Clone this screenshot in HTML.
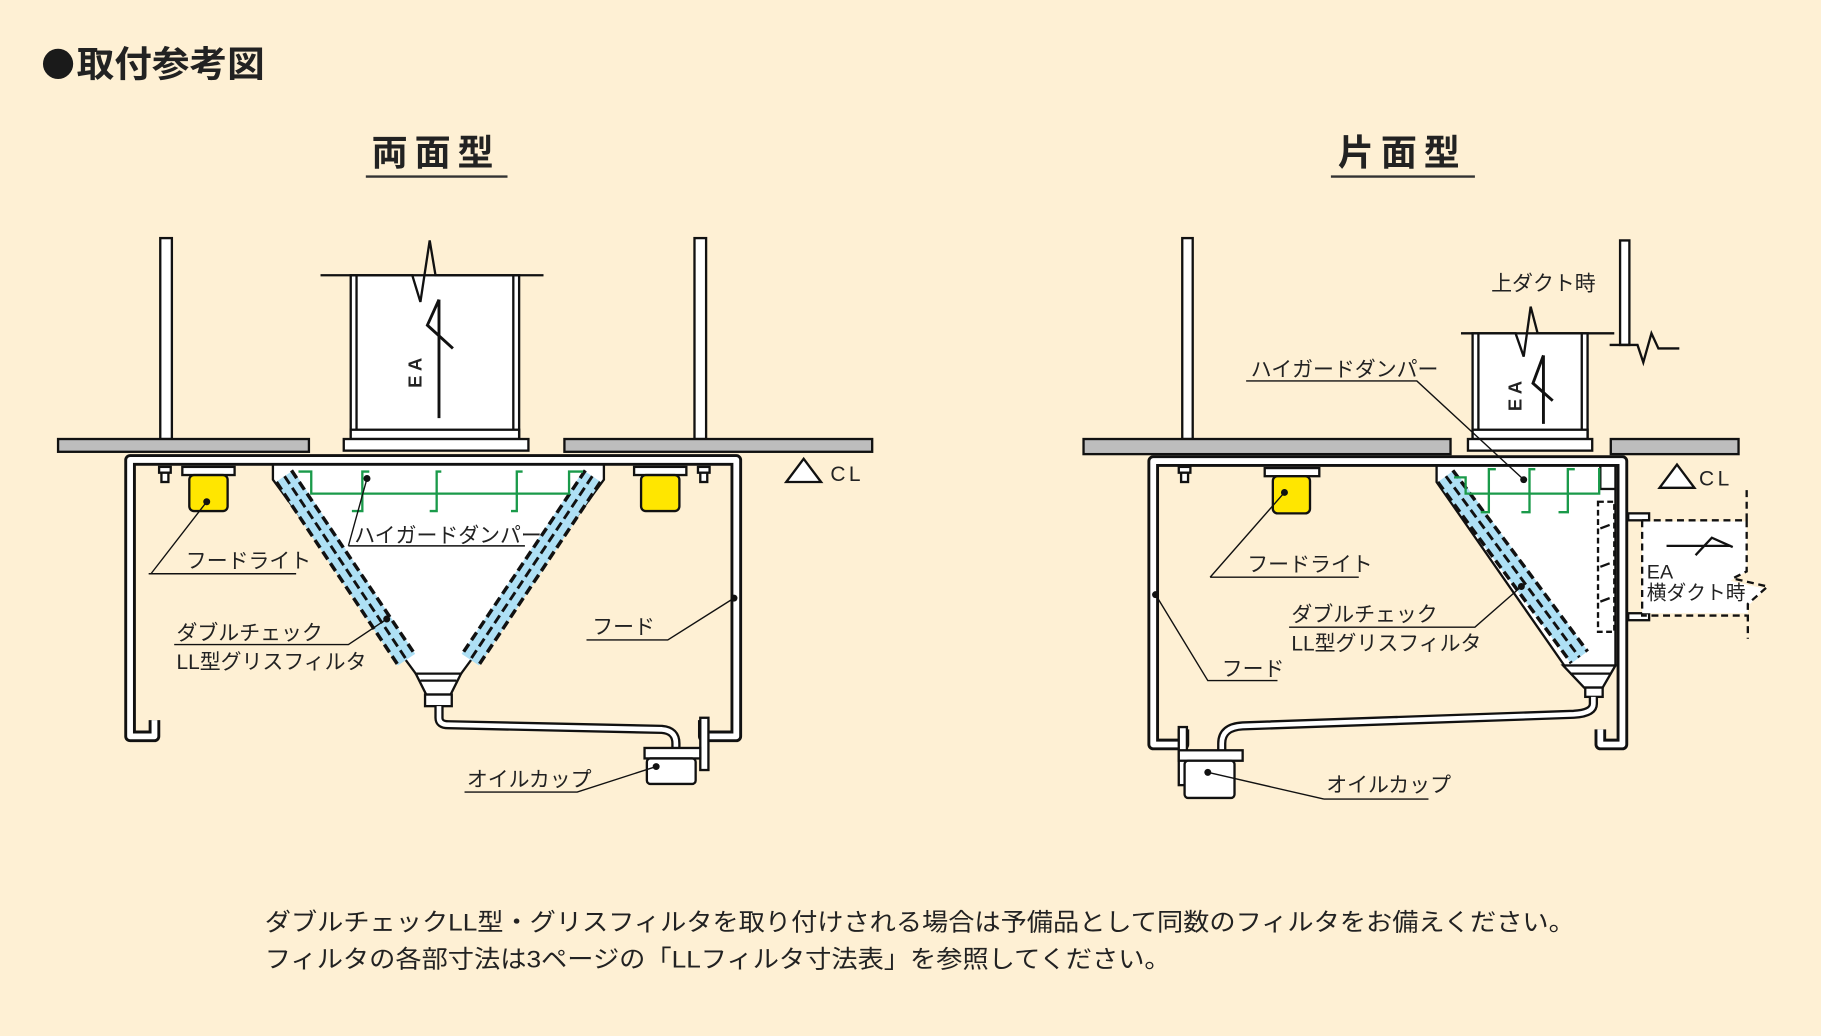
<!DOCTYPE html>
<html><head><meta charset="utf-8"><style>
html,body{margin:0;padding:0;background:#fef0d4;}
svg{display:block}
text{font-family:"Liberation Sans","Noto Sans CJK JP",sans-serif;fill:#222}
</style></head><body>
<svg width="1821" height="1036" viewBox="0 0 1568 892" preserveAspectRatio="none" xmlns="http://www.w3.org/2000/svg">
<rect width="1568" height="892" fill="#fef0d4"/>
<circle cx="50" cy="55" r="13" fill="#1a1a1a"/>
<text x="66" y="66" font-size="31" font-weight="bold" textLength="162" lengthAdjust="spacingAndGlyphs">取付参考図</text>
<text x="320" y="142" font-size="31" font-weight="bold" letter-spacing="6">両面型</text>
<line x1="315" y1="152" x2="437" y2="152" stroke="#333" stroke-width="2"/>
<text x="1152" y="142" font-size="31" font-weight="bold" letter-spacing="6">片面型</text>
<line x1="1146" y1="152" x2="1270" y2="152" stroke="#333" stroke-width="2"/>

<g stroke="#111" stroke-width="2">
<!-- LEFT DIAGRAM -->
<rect x="138" y="205" width="10" height="173" fill="#fff"/>
<rect x="598" y="205" width="10" height="173" fill="#fff"/>
<rect x="302" y="237" width="145" height="141" fill="#fff"/>
<line x1="307" y1="237" x2="307" y2="378"/><line x1="442" y1="237" x2="442" y2="378"/>
<rect x="302" y="370" width="145" height="8" fill="#fff"/>
<rect x="296" y="378" width="159" height="10" fill="#fff"/>
<path d="M276 237 H355 L362 260 L370 207 L375 237 H468" fill="none"/>
<line x1="378" y1="258" x2="378" y2="360" stroke-width="2.5"/>
<path d="M378 258 L368 280 L390 300" fill="none" stroke-width="2.5"/>
<rect x="50" y="378" width="216" height="11" fill="#bdbdbd"/>
<rect x="486" y="378" width="265" height="11" fill="#bdbdbd"/>
<path d="M133 620 V634 H112 V396 H634 V634 H606 V620" fill="none" stroke-width="10" stroke-linejoin="round"/>
<path d="M133 620 V634 H112 V396 H634 V634 H606 V620" fill="none" stroke="#fff" stroke-width="5" stroke-linejoin="round"/>
<rect x="157" y="402" width="45" height="7" fill="#fff"/>
<rect x="163" y="409" width="33" height="31" rx="4" fill="#ffe600"/>
<rect x="546" y="402" width="45" height="7" fill="#fff"/>
<rect x="552" y="409" width="33" height="31" rx="4" fill="#ffe600"/>
<rect x="137" y="402" width="10" height="5" fill="#fff"/><rect x="139" y="407" width="6" height="8" fill="#fff"/>
<rect x="601" y="402" width="10" height="5" fill="#fff"/><rect x="603" y="407" width="6" height="8" fill="#fff"/>
<path d="M235 400 V413 L358 580 H397 L520 413 V400 Z" fill="#fff"/>
<path d="M358 580 H397 L388 598 H367 Z" fill="#fff"/>
<line x1="362" y1="586" x2="393" y2="586"/>
<rect x="366" y="598" width="23" height="10" fill="#fff"/>
<path d="M378 608 V618 Q378 624 386 624 L570 628 Q582 629 582 640 V648" fill="none" stroke-width="8"/>
<path d="M378 608 V618 Q378 624 386 624 L570 628 Q582 629 582 640 V648" fill="none" stroke="#fff" stroke-width="4"/>
<rect x="603" y="618" width="7" height="45" fill="#fff"/>
<rect x="555" y="644" width="48" height="9" fill="#fff"/>
<rect x="557" y="653" width="42" height="22" rx="3" fill="#fff"/>
<line x1="245" y1="410" x2="350" y2="568" stroke="#aee0f5" stroke-width="18"/>
<line x1="251" y1="405" x2="357" y2="563" stroke-dasharray="8 4" stroke-width="3"/>
<line x1="238" y1="415" x2="343" y2="573" stroke-dasharray="8 4" stroke-width="3"/>
<line x1="245" y1="410" x2="350" y2="568" stroke-dasharray="8 4" stroke-width="2.5"/>
<line x1="510" y1="410" x2="405" y2="568" stroke="#aee0f5" stroke-width="18"/>
<line x1="504" y1="405" x2="398" y2="563" stroke-dasharray="8 4" stroke-width="3"/>
<line x1="517" y1="415" x2="412" y2="573" stroke-dasharray="8 4" stroke-width="3"/>
<line x1="510" y1="410" x2="405" y2="568" stroke-dasharray="8 4" stroke-width="2.5"/>
<g stroke="#1a9a4a" fill="none" stroke-width="2">
<path d="M257 406 H268 V425 H490 V406 H502"/>
<path d="M318 406 H312 V440 H303"/><path d="M380 406 H376 V440 H370"/>
<path d="M450 406 H445 V440 H440"/>
</g>
<path d="M677 415 L692 395 L707 415 Z" fill="#fff"/>
<g stroke-width="1.2" fill="none">
<path d="M128 494 H255 M130 494 L178 432"/>
<path d="M300 470 H452 M300 470 L316 412"/>
<path d="M150 555 H300 L333 533"/>
<path d="M505 551 H575 L632 515"/>
<path d="M400 682 H497 L565 660"/>
</g>

<!-- RIGHT DIAGRAM -->
<rect x="1018" y="205" width="9" height="173" fill="#fff"/>
<path d="M1395 207 H1403 V297 H1395 Z" fill="#fff"/>
<path d="M1386 297 H1410 L1415 312 L1422 287 L1428 300 H1446" fill="none"/>
<rect x="1268" y="287" width="99" height="91" fill="#fff"/>
<line x1="1273" y1="287" x2="1273" y2="378"/><line x1="1362" y1="287" x2="1362" y2="378"/>
<rect x="1268" y="370" width="99" height="8" fill="#fff"/>
<rect x="1264" y="378" width="107" height="10" fill="#fff"/>
<path d="M1258 287 H1305 L1312 307 L1318 264 L1324 287 H1390" fill="none"/>
<line x1="1329" y1="306" x2="1329" y2="365" stroke-width="2.5"/>
<path d="M1329 306 L1320 330 L1337 345" fill="none" stroke-width="2.5"/>
<rect x="933" y="378" width="316" height="13" fill="#bdbdbd"/>
<rect x="1387" y="378" width="110" height="13" fill="#bdbdbd"/>
<path d="M1019 628 V641 H993 V397 H1397 V641 H1378 V628" fill="none" stroke-width="10" stroke-linejoin="round"/>
<path d="M1019 628 V641 H993 V397 H1397 V641 H1378 V628" fill="none" stroke="#fff" stroke-width="5" stroke-linejoin="round"/>
<rect x="1089" y="403" width="47" height="7" fill="#fff"/>
<rect x="1096" y="410" width="32" height="32" rx="4" fill="#ffe600"/>
<rect x="1015" y="402" width="10" height="5" fill="#fff"/><rect x="1017" y="407" width="6" height="8" fill="#fff"/>
<path d="M1237 401 V415 L1347 573 H1391 V401 Z" fill="#fff"/>
<rect x="1378" y="401" width="13" height="20" fill="#fff"/>
<path d="M1346 573 H1391 L1380 592 H1364 Z" fill="#fff"/>
<line x1="1352" y1="580" x2="1387" y2="580"/>
<rect x="1365" y="592" width="15" height="8" fill="#fff"/>
<rect x="1376" y="432" width="14" height="112" fill="none" stroke-dasharray="5 3"/>
<path d="M1378 455 L1386 452 M1378 488 L1386 485 M1378 518 L1386 515" />
<path d="M1372 600 V606 Q1372 614 1355 615 L1070 625 Q1052 626 1052 640 V648" fill="none" stroke-width="8"/>
<path d="M1372 600 V606 Q1372 614 1355 615 L1070 625 Q1052 626 1052 640 V648" fill="none" stroke="#fff" stroke-width="4"/>
<rect x="1015" y="626" width="7" height="50" fill="#fff"/>
<rect x="1015" y="646" width="55" height="9" fill="#fff"/>
<rect x="1020" y="655" width="43" height="32" rx="3" fill="#fff"/>
<line x1="1245" y1="410" x2="1360" y2="566" stroke="#aee0f5" stroke-width="18"/>
<line x1="1251" y1="405" x2="1367" y2="561" stroke-dasharray="8 4" stroke-width="3"/>
<line x1="1238" y1="415" x2="1353" y2="571" stroke-dasharray="8 4" stroke-width="3"/>
<line x1="1245" y1="410" x2="1360" y2="566" stroke-dasharray="8 4" stroke-width="2.5"/>
<g stroke="#1a9a4a" fill="none" stroke-width="2">
<path d="M1252 411 H1262 V425 H1377 V403"/>
<path d="M1288 404 H1282 V441 H1275"/><path d="M1322 404 H1317 V441 H1310"/>
<path d="M1356 404 H1350 V441 H1342"/>
</g>
<rect x="1402" y="442" width="18" height="6" fill="#fff"/>
<rect x="1402" y="528" width="18" height="6" fill="#fff"/>
<path d="M1414 449 H1504 V492 L1490 500 L1520 507 L1505 522 V528 H1414 Z" fill="#fff" stroke="none"/>
<path d="M1414 448 V530 H1504 M1414 448 H1504 V420 M1504 448 V492 L1492 498 L1522 505 L1505 520 V550" fill="none" stroke-dasharray="6 4"/>
<line x1="1435" y1="470" x2="1490" y2="470" stroke-width="2"/>
<path d="M1460 478 L1474 463 L1492 471" fill="none" stroke-width="2"/>
<path d="M1429 420 L1444 400 L1459 420 Z" fill="#fff"/>
<g stroke-width="1.2" fill="none">
<path d="M1073 328 H1220 L1312 413"/>
<path d="M1042 497 H1170 M1042 497 L1106 424"/>
<path d="M1110 540 H1270 L1310 505"/>
<path d="M995 512 L1040 586 H1100"/>
<path d="M1140 688 H1230 M1040 665 L1140 688"/>
</g>
</g>
<g fill="#111">
<circle cx="178" cy="432" r="3"/><circle cx="316" cy="412" r="3"/><circle cx="333" cy="533" r="3"/>
<circle cx="632" cy="515" r="3"/><circle cx="565" cy="660" r="3"/>
<circle cx="1312" cy="413" r="3"/><circle cx="1106" cy="424" r="3"/><circle cx="1310" cy="505" r="3"/>
<circle cx="995" cy="512" r="3"/><circle cx="1040" cy="665" r="3"/>
</g>
<g font-size="18">
<text x="363" y="334" font-size="16" font-weight="bold" transform="rotate(-90 363 334)">E A</text>
<text x="1310" y="354" font-size="16" font-weight="bold" transform="rotate(-90 1310 354)">E A</text>
<text x="715" y="414" font-size="18" letter-spacing="3">CL</text>
<text x="1463" y="418" font-size="18" letter-spacing="3">CL</text>
<text x="160" y="489">フードライト</text>
<text x="305" y="467">ハイガードダンパー</text>
<text x="152" y="551">ダブルチェック</text>
<text x="152" y="576">LL型グリスフィルタ</text>
<text x="510" y="546">フード</text>
<text x="402" y="677">オイルカップ</text>
<text x="1284" y="250">上ダクト時</text>
<text x="1077" y="324">ハイガードダンパー</text>
<text x="1074" y="492">フードライト</text>
<text x="1112" y="535">ダブルチェック</text>
<text x="1112" y="560">LL型グリスフィルタ</text>
<text x="1052" y="582">フード</text>
<text x="1142" y="682">オイルカップ</text>
<text x="1418" y="498" font-size="17">EA</text>
<text x="1418" y="516" font-size="17">横ダクト時</text>
</g>
<text x="228" y="801" font-size="21" textLength="1128" lengthAdjust="spacingAndGlyphs">ダブルチェックLL型・グリスフィルタを取り付けされる場合は予備品として同数のフィルタをお備えください。</text>
<text x="228" y="833" font-size="21" textLength="780" lengthAdjust="spacingAndGlyphs">フィルタの各部寸法は3ページの「LLフィルタ寸法表」を参照してください。</text>
</svg>
</body></html>
